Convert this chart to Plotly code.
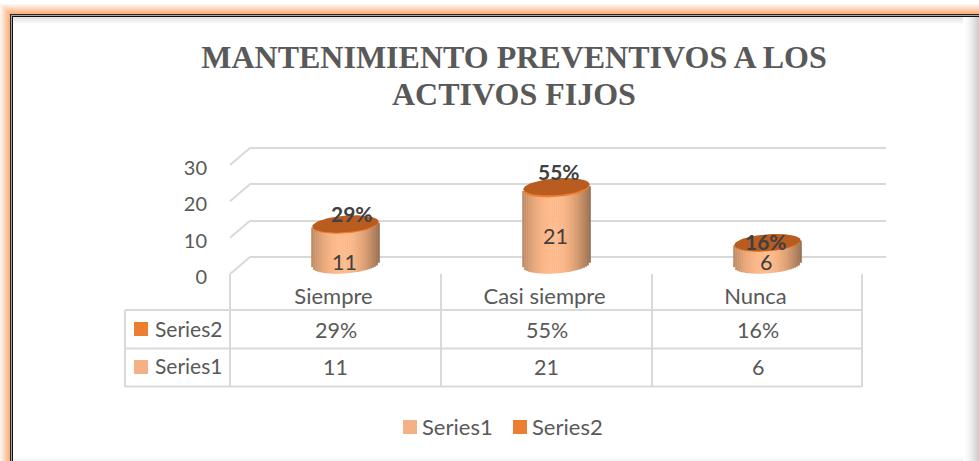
import numpy as np
import plotly.graph_objects as go

W, H = 979, 461

categories = ["Siempre", "Casi siempre", "Nunca"]
series1 = [11, 21, 6]
series2 = [29, 55, 16]  # porcentaje
series_names = ["Series1", "Series2"]
y_ticks = [0, 10, 20, 30]
title_lines = ["MANTENIMIENTO PREVENTIVOS A LOS", "ACTIVOS FIJOS"]

GRAY = "#595959"
GRID = "#D9D9D9"
COLOR1 = "#F4B183"
COLOR2 = "#ED7D31"
TOP = "#B85C20"
FONT = "Lato"
FS = 21
UNIT = 109 / 30  # pixeles por unidad del eje


def px(x):
    return x / W


def py(y):
    return 1 - y / H


def mix(c1, c2, k):
    return "rgb(%d,%d,%d)" % tuple(c1[i] + (c2[i] - c1[i]) * k for i in range(3))


fig = go.Figure()

# cilindros: tiras verticales sobre el eje intermedio
RX, RY, TILT = 0.157, 2.3, 0.65
ts = np.linspace(-1, 1, 35)
xs, ys, bases, cols = [], [], [], []
for i, v in enumerate(series1):
    for t in ts:
        curve = RY * np.sqrt(max(1 - t * t, 0))
        xs.append(i + t * RX)
        bases.append(-curve + TILT * t)
        ys.append(v + curve)
        cols.append(mix((255, 186, 138), (155, 112, 82), min(abs(t + 0.1) / 1.1, 1) ** 2.2))
fig.add_trace(go.Bar(
    x=xs, y=ys, base=bases, width=RX * 2 / 34 * 1.2,
    marker=dict(color=cols, line=dict(width=0)),
    xaxis="x3", yaxis="y3", cliponaxis=False, showlegend=False, hoverinfo="skip",
))

# tapa: borde Series1 y elipse Series2 apilada
a = np.linspace(0, 2 * np.pi, 80)
for i, v in enumerate(series1):
    top = v + series2[i] / 100
    for level, color in ((v, COLOR2), (top, TOP)):
        fig.add_trace(go.Scatter(
            x=i + RX * np.cos(a),
            y=level + RY * np.sin(a) + TILT * np.cos(a),
            mode="lines", fill="toself", fillcolor=color, line=dict(width=0),
            xaxis="x3", yaxis="y3", cliponaxis=False, showlegend=False, hoverinfo="skip",
        ))

shapes = []


def rect(x0, y0, x1, y1, fill, layer="below"):
    shapes.append(dict(type="rect", xref="paper", yref="paper", x0=px(x0), x1=px(x1),
                       y0=py(y0), y1=py(y1), fillcolor=fill, line=dict(width=0), layer=layer))


def seg(x0, y0, x1, y1, color=GRID, width=2):
    shapes.append(dict(type="line", xref="paper", yref="paper", x0=px(x0), x1=px(x1),
                       y0=py(y0), y1=py(y1), line=dict(color=color, width=width), layer="below"))


# marco: resplandor naranja, doble linea y sombra interior
for k in range(10, 0, -1):
    rect(10 - k, 14 - k, W + 5, H + 5, mix((250, 178, 128), (255, 245, 238), (k - 1) / 9))
rect(10, 14, W + 5, H + 5, "#2A2420")
rect(11, 15, W + 5, H + 5, "#B0A498")
rect(12, 16, W + 5, H + 5, "#111111")
rect(13, 17, W + 5, H + 5, "white")
for k in range(8):
    rect(13, 17 + k, W, 18 + k, mix((228, 228, 228), (255, 255, 255), k / 7))
for k in range(16):
    rect(W - 16 + k, 17, W - 15 + k, H, mix((255, 255, 255), (205, 205, 205), (k / 15) ** 1.5))
for k in range(4):
    rect(13, H - 4 + k, W - 16, H - 3 + k, mix((255, 255, 255), (244, 244, 244), k / 3))

# piso y diagonales de la pared
for v in y_ticks:
    d = v * UNIT
    seg(230, 274 - d, 250, 257 - d)

# tabla de datos
for y in (310, 348.5, 386.5):
    seg(125, y, 862, y)
seg(125, 310, 125, 387)
for x in (230, 441, 652, 862):
    seg(x, 274, x, 387)
rect(134, 322, 148, 336, COLOR2)
rect(134, 360, 148, 374, COLOR1)

# leyenda
rect(403, 420, 417, 434, COLOR1)
rect(513, 420, 527, 434, COLOR2)

annotations = []


def label(text, x, y, xref="paper", size=FS, bold=False, color=GRAY, anchor="center", family=FONT):
    annotations.append(dict(
        text=f"<b>{text}</b>" if bold else text, x=x, y=y, xref=xref, yref="paper",
        xanchor=anchor, yanchor="middle", showarrow=False,
        font=dict(family=family, size=size, color=color),
    ))


label(title_lines[1], px(514), py(94), size=32, bold=True, family="Liberation Serif")
label(series_names[1], px(153), py(328), anchor="left")
label(series_names[0], px(153), py(365), anchor="left")
label(series_names[0], px(420), py(426), anchor="left", size=22)
label(series_names[1], px(530), py(426), anchor="left", size=22)
for i in range(3):
    label(f"{series2[i]}%", i, py(330), xref="x", size=21.5)
    label(str(series1[i]), i, py(367), xref="x", size=21.5)

# etiquetas sobre los cilindros
label_dx = [0.03, 0.01, -0.005]
pct_y = [213, 171, 241]
val_y = [262, 236, 262]
for i in range(3):
    label(f"{series2[i]}%", i + label_dx[i], py(pct_y[i]), xref="x3", bold=True, color="#404040", size=21)
    label(str(series1[i]), i - 0.005, py(val_y[i]), xref="x3", color="#404040", size=21.5)

fig.update_layout(
    width=W, height=H, autosize=False,
    margin=dict(l=0, r=0, t=0, b=0, autoexpand=False),
    paper_bgcolor="white", plot_bgcolor="rgba(0,0,0,0)",
    barmode="overlay", showlegend=False,
    title=dict(
        text=f"<b>{title_lines[0]}</b>", x=px(514), xanchor="center", y=py(57), yanchor="middle",
        font=dict(family="Liberation Serif", size=32, color=GRAY),
    ),
    shapes=shapes, annotations=annotations,
    # plano frontal: ticks y categorias
    xaxis=dict(domain=[px(230), px(863)], range=[-0.5, 2.5], anchor="y",
               tickvals=[0, 1, 2], ticktext=categories, showgrid=False, zeroline=False,
               ticks="outside", ticklen=3, tickcolor="rgba(0,0,0,0)", showline=False,
               ticklabelshift=-2,
               tickfont=dict(family=FONT, size=22, color=GRAY)),
    yaxis=dict(domain=[py(274), py(165)], range=[0, 30], anchor="x",
               tickvals=y_ticks, showgrid=False, zeroline=False, showline=False,
               ticks="outside", ticklen=18, tickcolor="rgba(0,0,0,0)",
               ticklabelshift=3,
               tickfont=dict(family=FONT, size=20, color=GRAY)),
    # pared del fondo: lineas de cuadricula
    xaxis2=dict(domain=[px(250), px(886)], range=[0, 1], anchor="y2", visible=False),
    yaxis2=dict(domain=[py(257), py(257 - 30.6 * UNIT)], range=[0, 30.6], anchor="x2",
                tickvals=y_ticks, showgrid=True, gridcolor=GRID, gridwidth=2,
                zeroline=True, zerolinecolor=GRID, zerolinewidth=2,
                showticklabels=False, ticks="", showline=False),
    # plano de los cilindros
    xaxis3=dict(domain=[px(240), px(873)], range=[-0.5, 2.5], anchor="y3", visible=False),
    yaxis3=dict(domain=[py(265 + 4 * UNIT), py(156)], range=[-4, 30], anchor="x3", visible=False),
)

# trazas invisibles para que los otros planos existan como subplots
fig.add_trace(go.Scatter(x=[0], y=[0], xaxis="x2", yaxis="y2", mode="markers",
                         marker=dict(opacity=0), showlegend=False, hoverinfo="skip"))
fig.add_trace(go.Scatter(x=[0], y=[0], xaxis="x", yaxis="y", mode="markers",
                         marker=dict(opacity=0), showlegend=False, hoverinfo="skip"))

fig.write_html("out.html", post_script="document.body.style.margin='0';", config=dict(displayModeBar=False))
